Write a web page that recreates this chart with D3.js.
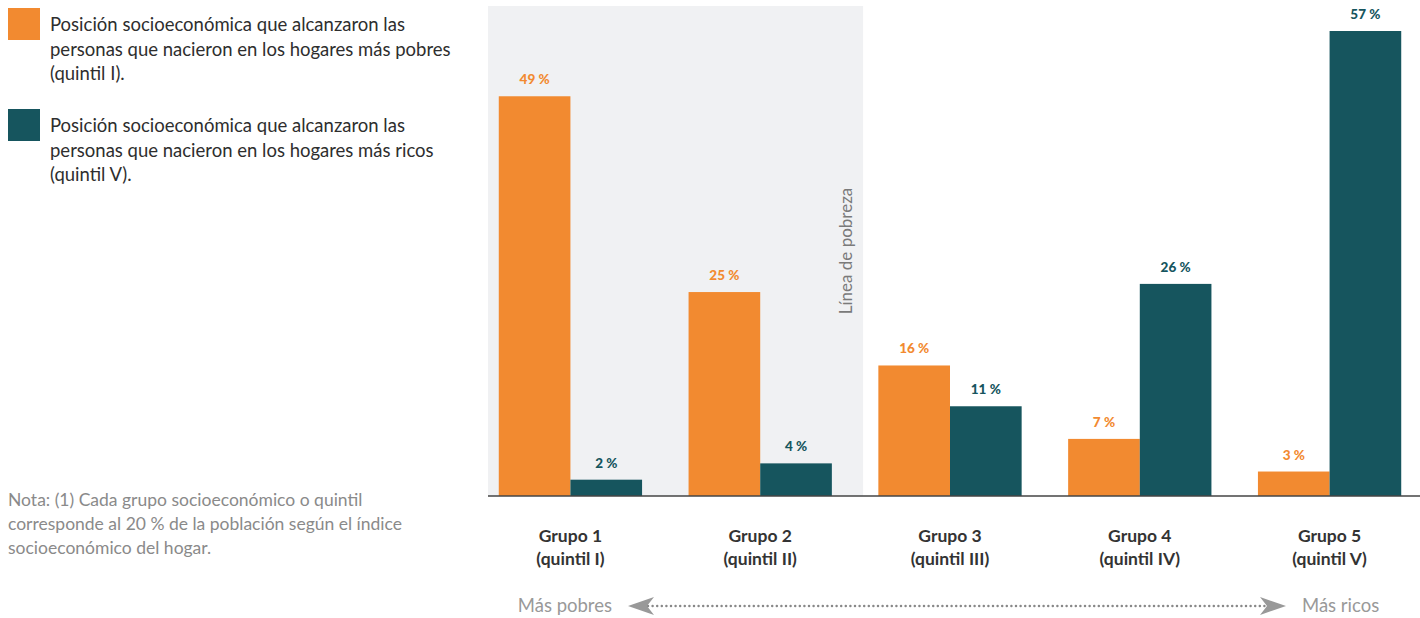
<!DOCTYPE html>
<html><head><meta charset="utf-8">
<script src="https://cdn.jsdelivr.net/npm/d3@7"></script>
<style>body{margin:0;background:#fff;}svg{display:block;font-family:Lato,"Open Sans",sans-serif;}</style>
</head><body><svg id="c" width="1420" height="618"></svg>
<script>
const groups = ["Grupo 1","Grupo 2","Grupo 3","Grupo 4","Grupo 5"];
const quintiles = ["(quintil I)","(quintil II)","(quintil III)","(quintil IV)","(quintil V)"];
const poorest = [49,25,16,7,3];
const richest = [2,4,11,26,57];
const seriesNames = ["Quintil I","Quintil V"];
const legendLines = [
  ["Posición socioeconómica que alcanzaron las","personas que nacieron en los hogares más pobres","(quintil I)."],
  ["Posición socioeconómica que alcanzaron las","personas que nacieron en los hogares más ricos","(quintil V)."]
];
const noteLines = ["Nota: (1) Cada grupo socioeconómico o quintil","corresponde al 20 % de la población según el índice","socioeconómico del hogar."];
const colors = ["#f28a30","#16555e"];

const svg = d3.select("#c");
const base = 496;
const x = d3.scaleBand().domain(groups).range([476,1424]).paddingInner(0.245).paddingOuter(0.12);
const xs = d3.scaleBand().domain(seriesNames).range([0,x.bandwidth()]);
const y = d3.scaleLinear().domain([0,57]).range([base,31]);

const mid23 = (x("Grupo 2")+x.bandwidth()+x("Grupo 3"))/2;
svg.append("rect").attr("x",488).attr("y",6)
  .attr("width",mid23+8-488).attr("height",base-6).attr("fill","#f0f1f3");
svg.append("text").attr("transform",`translate(${mid23-10},251) rotate(-90)`)
  .attr("text-anchor","middle").attr("dominant-baseline","central").attr("font-size",17).attr("fill","#7a7a7a").text("Línea de pobreza");

const data = groups.map((g,i)=>({g, vals:[poorest[i],richest[i]]}));
const gg = svg.selectAll("g.grp").data(data).join("g").attr("transform",d=>`translate(${x(d.g)},0)`);
gg.selectAll("rect").data(d=>d.vals.map((v,j)=>({v,j}))).join("rect")
  .attr("x",d=>xs(seriesNames[d.j])).attr("width",xs.bandwidth())
  .attr("y",d=>y(d.v)).attr("height",d=>base-y(d.v)).attr("fill",d=>colors[d.j]);
gg.selectAll("text").data(d=>d.vals.map((v,j)=>({v,j}))).join("text")
  .attr("x",d=>xs(seriesNames[d.j])+xs.bandwidth()/2).attr("y",d=>y(d.v)-12)
  .attr("text-anchor","middle").attr("font-size",13.5).attr("font-weight",900)
  .attr("fill",d=>d.j===0?"#f28a30":"#16555e").text(d=>d.v+" %");

svg.append("line").attr("x1",488).attr("x2",1420).attr("y1",base).attr("y2",base).attr("stroke","#444").attr("stroke-width",1.5);

const xl = svg.selectAll("text.xl").data(groups).join("text").attr("class","xl")
  .attr("text-anchor","middle").attr("font-size",17.5).attr("font-weight",700).attr("fill","#333");
xl.append("tspan").attr("x",d=>x(d)+x.bandwidth()/2).attr("y",542).text(d=>d);
xl.append("tspan").attr("x",d=>x(d)+x.bandwidth()/2).attr("y",565).text((d,i)=>quintiles[i]);

svg.append("text").attr("x",612).attr("y",612).attr("text-anchor","end").attr("font-size",18.5).attr("fill","#999").text("Más pobres");
svg.append("text").attr("x",1302).attr("y",612).attr("font-size",18.5).attr("fill","#999").text("Más ricos");
svg.append("line").attr("x1",648).attr("x2",1266).attr("y1",606).attr("y2",606)
  .attr("stroke","#888").attr("stroke-width",2.5).attr("stroke-dasharray","0 4.6").attr("stroke-linecap","round");
svg.append("path").attr("d","M628,606 L654,597 L647,606 L654,615 Z").attr("fill","#999");
svg.append("path").attr("d","M1286,606 L1260,597 L1267,606 L1260,615 Z").attr("fill","#999");

legendLines.forEach((lines,i)=>{
  const y0 = 8 + i*101;
  svg.append("rect").attr("x",8).attr("y",y0).attr("width",32).attr("height",32).attr("fill",colors[i]);
  const t = svg.append("text").attr("font-size",18.5).attr("fill","#2e2e2e");
  lines.forEach((l,k)=>t.append("tspan").attr("x",50).attr("y",y0+23+k*24.5).text(l));
});

const nt = svg.append("text").attr("font-size",17.5).attr("fill","#8a8a8a");
noteLines.forEach((l,k)=>nt.append("tspan").attr("x",8).attr("y",506+k*24).text(l));
</script></body></html>
